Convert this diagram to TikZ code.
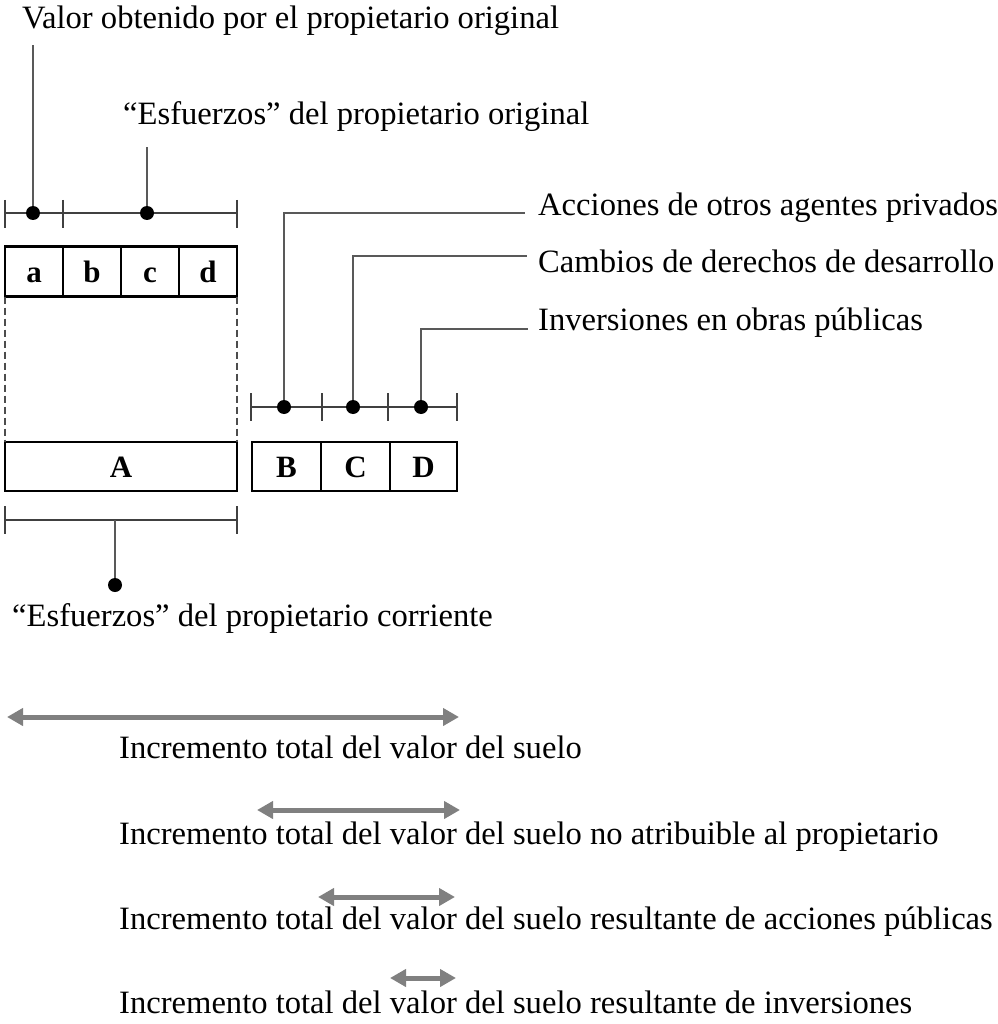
\documentclass[tikz,border=0pt]{standalone}
\usepackage{fontspec}
\setmainfont{Liberation Serif}
\usetikzlibrary{arrows.meta}
\begin{document}
\begin{tikzpicture}[x=1pt,y=-1pt,
  lbl/.style={anchor=base west,inner sep=0pt,font=\fontsize{32.6}{38}\selectfont},
  cell/.style={draw=black,line width=2.4pt,outer sep=0pt,inner sep=0pt,
    minimum height=50pt,text height=21pt,text depth=0pt,
    font=\fontsize{31}{36}\selectfont\bfseries},
  dotnode/.style={circle,fill=black,inner sep=0pt,minimum size=14pt},
  lead/.style={draw=black!65,line width=1.8pt},
  brk/.style={draw=black!75,line width=1.4pt},
  guide/.style={draw=black!70,line width=1.2pt,dash pattern=on 7pt off 4pt},
  span/.style={draw=black!50,line width=5pt,
    {Triangle[length=16pt,width=17pt]}-{Triangle[length=16pt,width=17pt]}}
]
\useasboundingbox (0,0) rectangle (997,1024);

% ---- original owner's cells a-d
\node[cell,minimum width=58pt] (a) at (34,271.5) {a};
\node[cell,minimum width=58pt] (b) at (92,271.5) {b};
\node[cell,minimum width=58pt] (c) at (150,271.5) {c};
\node[cell,minimum width=58pt] (d) at (208,271.5) {d};

% ---- current owner's cell A and external cells B, C, D
\node[cell,minimum width=232pt,minimum height=49pt] (A) at (121,466.5) {A};
\node[cell,minimum width=69pt,minimum height=49pt] (B) at (286.5,466.5) {B};
\node[cell,minimum width=69pt,minimum height=49pt] (C) at (355.5,466.5) {C};
\node[cell,minimum width=67pt,minimum height=49pt] (D) at (423.5,466.5) {D};

% dashed guides between the two rows
\draw[guide] (a.south west) -- (A.north west);
\draw[guide] (d.south east) -- (A.north east);

% ---- top bracket over a-d
\draw[brk] (5,213) -- (237,213);
\foreach \x in {5,63,237} \draw[brk] (\x,200) -- (\x,228);
\node[dotnode] (pa) at (33,213) {};
\node[dotnode] (pbcd) at (147,213) {};

% ---- bracket over B, C, D
\draw[brk] (251,407) -- (457,407);
\foreach \x in {251,322,388,457} \draw[brk] (\x,393) -- (\x,421);
\node[dotnode] (pB) at (284,407) {};
\node[dotnode] (pC) at (353,407) {};
\node[dotnode] (pD) at (421,407) {};

% ---- bracket under A
\draw[brk] (5,520) -- (237,520);
\foreach \x in {5,237} \draw[brk] (\x,506) -- (\x,534);
\coordinate (mA) at (115,520);
\node[dotnode] (pA) at (115,585) {};

% ---- labels
\node[lbl] (tval) at (22,29) {Valor obtenido por el propietario original};
\node[lbl] (tesf) at (123,125) {“Esfuerzos” del propietario original};
\node[lbl] (tcor) at (12,626) {“Esfuerzos” del propietario corriente};
\node[lbl] (tB) at (538,215) {Acciones de otros agentes privados};
\node[lbl] (tC) at (538,272) {Cambios de derechos de desarrollo};
\node[lbl] (tD) at (538,330) {Inversiones en obras públicas};

% ---- leader lines
\coordinate (eval) at (33,45);
\coordinate (eesf) at (147,147);
\draw[lead] (pa) -- (eval);
\draw[lead] (pbcd) -- (eesf);
\draw[lead] (pA) -- (mA);
\draw[lead] (pB) |- (525,213);
\draw[lead] (pC) |- (527,256);
\draw[lead] (pD) |- (528,329);

% ---- value increment spans
\coordinate (s1l) at (7,717);   \coordinate (s1r) at (459,717);
\coordinate (s2l) at (257,810); \coordinate (s2r) at (460,810);
\coordinate (s3l) at (318,897); \coordinate (s3r) at (455,897);
\coordinate (s4l) at (390,978); \coordinate (s4r) at (456,978);
\draw[span] (s1l) -- (s1r);
\draw[span] (s2l) -- (s2r);
\draw[span] (s3l) -- (s3r);
\draw[span] (s4l) -- (s4r);

\node[lbl] (i1) at (119,758) {Incremento total del valor del suelo};
\node[lbl] (i2) at (119,844) {Incremento total del valor del suelo no atribuible al propietario};
\node[lbl] (i3) at (119,929) {Incremento total del valor del suelo resultante de acciones públicas};
\node[lbl] (i4) at (119,1013) {Incremento total del valor del suelo resultante de inversiones};
\end{tikzpicture}
\end{document}
